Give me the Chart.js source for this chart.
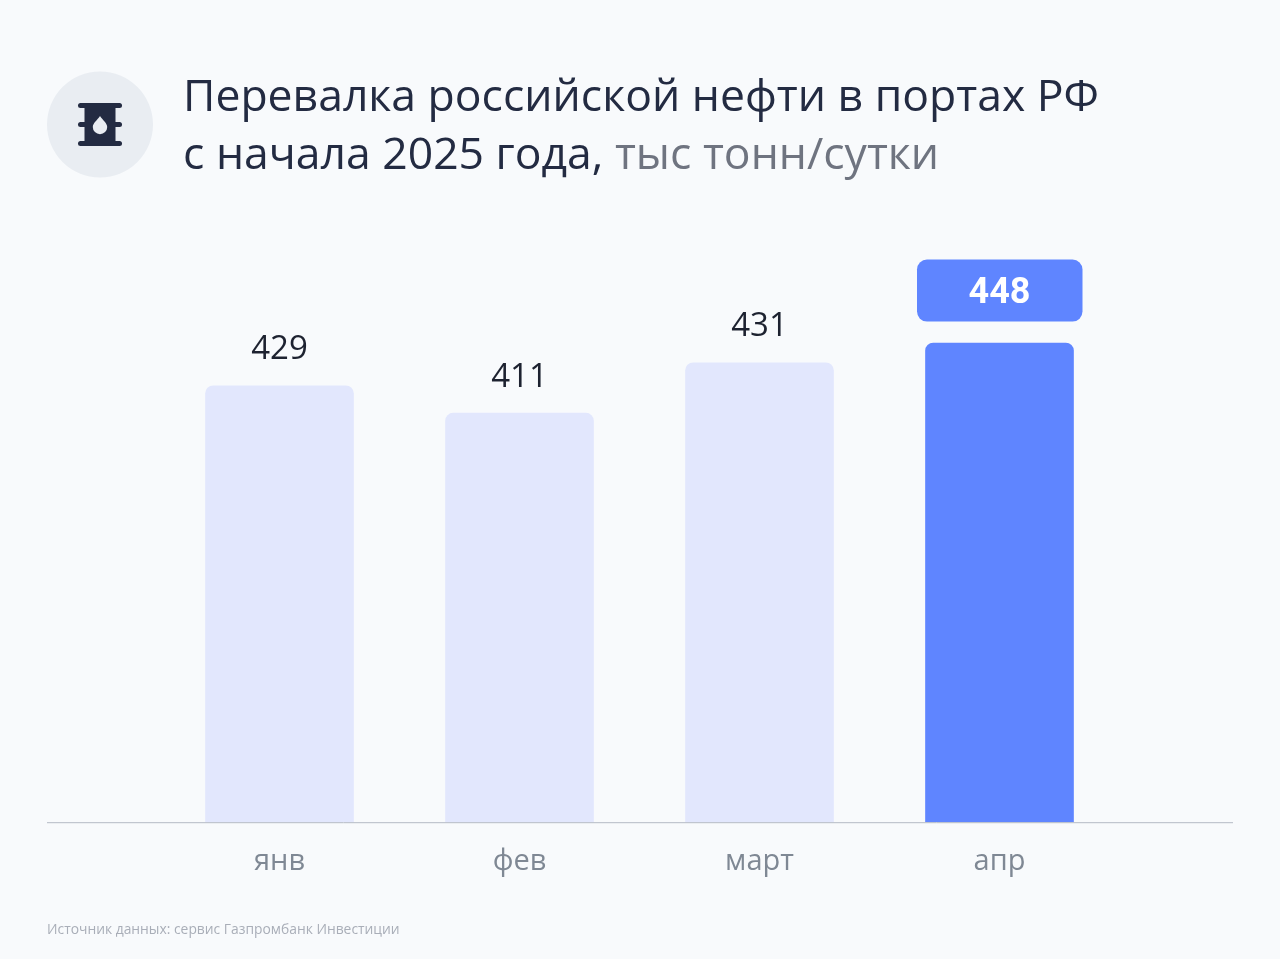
<!DOCTYPE html>
<html lang="ru">
<head>
<meta charset="utf-8">
<title>Перевалка российской нефти</title>
<script src="https://cdn.jsdelivr.net/npm/chart.js@4"></script>
<style>
  html, body { margin: 0; padding: 0; background: #f8fafc; }
  #page { position: relative; width: 1280px; height: 959px; overflow: hidden; font-family: "Open Sans", sans-serif; }
  #chart { position: absolute; left: 0; top: 0; }
  #icon { position: absolute; left: 47px; top: 71px; }
  #title { position: absolute; left: 183px; top: 65px; font-size: 44.5px; line-height: 58px; color: #232b42; white-space: nowrap; }
  #title span { color: #6f7480; }
  #source { position: absolute; left: 47px; top: 919px; font-size: 13.85px; color: #a9aeb8; }
</style>
</head>
<body>
<div id="page">
  <canvas id="chart" width="1280" height="959"></canvas>
  <svg id="icon" width="106" height="107" viewBox="0 0 106 107">
    <circle cx="53" cy="53.5" r="53" fill="#e9edf2"/>
    <g fill="#232b42">
      <rect x="37.5" y="33" width="31" height="41"/>
      <rect x="31" y="32" width="44" height="5" rx="2.5"/>
      <rect x="31" y="51" width="44" height="5" rx="2.5"/>
      <rect x="31" y="70" width="44" height="5" rx="2.5"/>
    </g>
    <path d="M53 45 C55.5 49 60.2 52 60.2 56 A7.2 7.2 0 0 1 45.8 56 C45.8 52 50.5 49 53 45 Z" fill="#e9edf2"/>
  </svg>
  <div id="title">Перевалка российской нефти в портах РФ<br>с начала 2025 года, <span>тыс тонн/сутки</span></div>
  <div id="source">Источник данных: сервис Газпромбанк Инвестиции</div>
</div>
<script>
const months = ["янв", "фев", "март", "апр"];
// numbers printed above the bars
const printedValues = [429, 411, 431, 448];
// bar lengths as they appear in the picture, read on a zero-based axis where
// the April bar equals 448. The original bars are not strictly in proportion
// to their printed numbers, so the two lists differ a little.
const barLevels = [408, 382.5, 429.5, 448];
const barColors = ["#e2e7fd", "#e2e7fd", "#e2e7fd", "#5f85ff"];

// baseline, value labels and the highlighted pill
const labelsPlugin = {
  id: "labelsPlugin",
  afterDatasetsDraw(chart) {
    const ctx = chart.ctx;
    const y0 = chart.scales.y.getPixelForValue(0);
    ctx.save();
    ctx.strokeStyle = "#b4bac4";
    ctx.lineWidth = 1;
    ctx.beginPath();
    ctx.moveTo(47, y0 + 0.5);
    ctx.lineTo(1233, y0 + 0.5);
    ctx.stroke();

    ctx.textAlign = "center";
    ctx.textBaseline = "middle";
    chart.getDatasetMeta(0).data.forEach((bar, i) => {
      if (i === printedValues.length - 1) {
        ctx.fillStyle = barColors[i];
        ctx.beginPath();
        ctx.roundRect(bar.x - 82.5, bar.y - 83.5, 165.5, 62, 10);
        ctx.fill();
        ctx.fillStyle = "#ffffff";
        ctx.font = "700 36px Roboto";
        ctx.fillText(printedValues[i], bar.x, bar.y - 49);
      } else {
        ctx.fillStyle = "#1d2230";
        ctx.font = "400 33px 'Open Sans'";
        ctx.fillText(printedValues[i], bar.x, bar.y - 36);
      }
    });
    ctx.restore();
  }
};

new Chart(document.getElementById("chart"), {
  type: "bar",
  data: {
    labels: months,
    datasets: [{
      data: barLevels,
      backgroundColor: barColors,
      barThickness: 148,
      borderRadius: 8
    }]
  },
  options: {
    responsive: false,
    animation: false,
    devicePixelRatio: 1,
    layout: { padding: { left: 159.5, right: 160.5, top: 180.5, bottom: 66 } },
    plugins: { legend: { display: false }, tooltip: { enabled: false } },
    scales: {
      x: {
        grid: { display: false },
        border: { display: false },
        ticks: { color: "#7f8894", font: { family: "Open Sans", size: 29 }, padding: 14, maxRotation: 0 }
      },
      y: { display: false, min: 0, max: 600 }
    }
  },
  plugins: [labelsPlugin]
});
</script>
</body>
</html>
